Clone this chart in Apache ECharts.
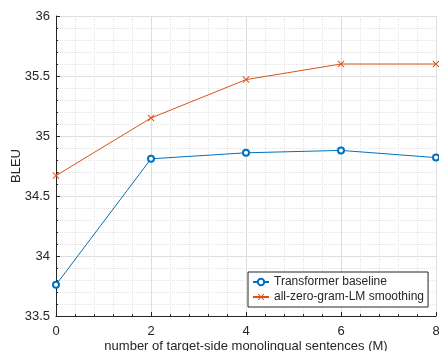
<!DOCTYPE html>
<html>
<head>
<meta charset="utf-8">
<script src="https://cdn.jsdelivr.net/npm/echarts@6/dist/echarts.min.js"></script>
<style>html,body{margin:0;padding:0;background:#fff;}#c{width:439px;height:351px;}</style>
</head>
<body>
<div id="c"></div>
<script>
const xValues = [0, 2, 4, 6, 8];
const baseline = [33.76, 34.81, 34.86, 34.88, 34.82];
const smoothing = [34.67, 35.15, 35.47, 35.60, 35.60];
const seriesNames = ['Transformer baseline', 'all-zero-gram-LM smoothing'];
const xTitle = 'number of target-side monolingual sentences (M)';
const yTitle = 'BLEU';

const crossPath = 'path://M0,1L1,0L5,4L9,0L10,1L6,5L10,9L9,10L5,6L1,10L0,9L4,5Z';
const font = 'Liberation Sans, Arial, sans-serif';
const dark = '#262626';

const chart = echarts.init(document.getElementById('c'), null, {renderer: 'canvas'});
chart.setOption({
  animation: false,
  backgroundColor: '#fff',
  grid: {left: 56, right: 3, top: 16, bottom: 35, containLabel: false, outerBoundsMode: 'none'},
  xAxis: {
    type: 'value', min: 0, max: 8, interval: 2,
    name: xTitle, nameLocation: 'middle', nameGap: 24, nameMoveOverlap: false,
    nameTextStyle: {fontFamily: font, fontSize: 13, color: dark, verticalAlign: 'top'},
    axisLine: {show: true, onZero: false, lineStyle: {color: dark, width: 1}},
    axisTick: {show: true, inside: true, length: 4, lineStyle: {color: dark}},
    minorTick: {show: true, splitNumber: 5, length: 2, lineStyle: {color: dark}},
    axisLabel: {fontFamily: font, fontSize: 13, color: dark, margin: 9},
    splitLine: {show: true, lineStyle: {color: '#dedede', width: 1}},
    minorSplitLine: {show: true, lineStyle: {color: '#e4e4e4', width: 1, type: [1, 1]}}
  },
  yAxis: {
    type: 'value', min: 33.5, max: 36, interval: 0.5,
    name: yTitle, nameLocation: 'middle', nameGap: 33, nameRotate: 90, nameMoveOverlap: false,
    nameTextStyle: {fontFamily: font, fontSize: 13, color: dark},
    axisLine: {show: true, onZero: false, lineStyle: {color: dark, width: 1}},
    axisTick: {show: true, inside: true, length: 4, lineStyle: {color: dark}},
    minorTick: {show: true, splitNumber: 5, length: 2, lineStyle: {color: dark}},
    axisLabel: {fontFamily: font, fontSize: 13, color: dark, margin: 6},
    splitLine: {show: true, lineStyle: {color: '#dedede', width: 1}},
    minorSplitLine: {show: true, lineStyle: {color: '#e4e4e4', width: 1, type: [1, 1]}}
  },
  legend: {
    orient: 'vertical', left: 248, top: 272,
    backgroundColor: '#fff', borderColor: dark, borderWidth: 1, borderRadius: 0,
    padding: [4, 4, 4, 4], itemGap: 3, itemWidth: 16, itemHeight: 8,
    textStyle: {fontFamily: font, fontSize: 12, color: dark},
    data: seriesNames
  },
  series: [
    {
      name: seriesNames[0], type: 'line',
      data: xValues.map((x, i) => [x, baseline[i]]),
      symbol: 'emptyCircle', symbolSize: 6,
      lineStyle: {color: '#0072BD', width: 1},
      itemStyle: {color: '#0072BD', borderColor: '#0072BD', borderWidth: 1}
    },
    {
      name: seriesNames[1], type: 'line',
      data: xValues.map((x, i) => [x, smoothing[i]]),
      symbol: crossPath, symbolSize: 7,
      lineStyle: {color: '#D95319', width: 1},
      itemStyle: {color: '#D95319'}
    }
  ]
});
</script>
</body>
</html>
